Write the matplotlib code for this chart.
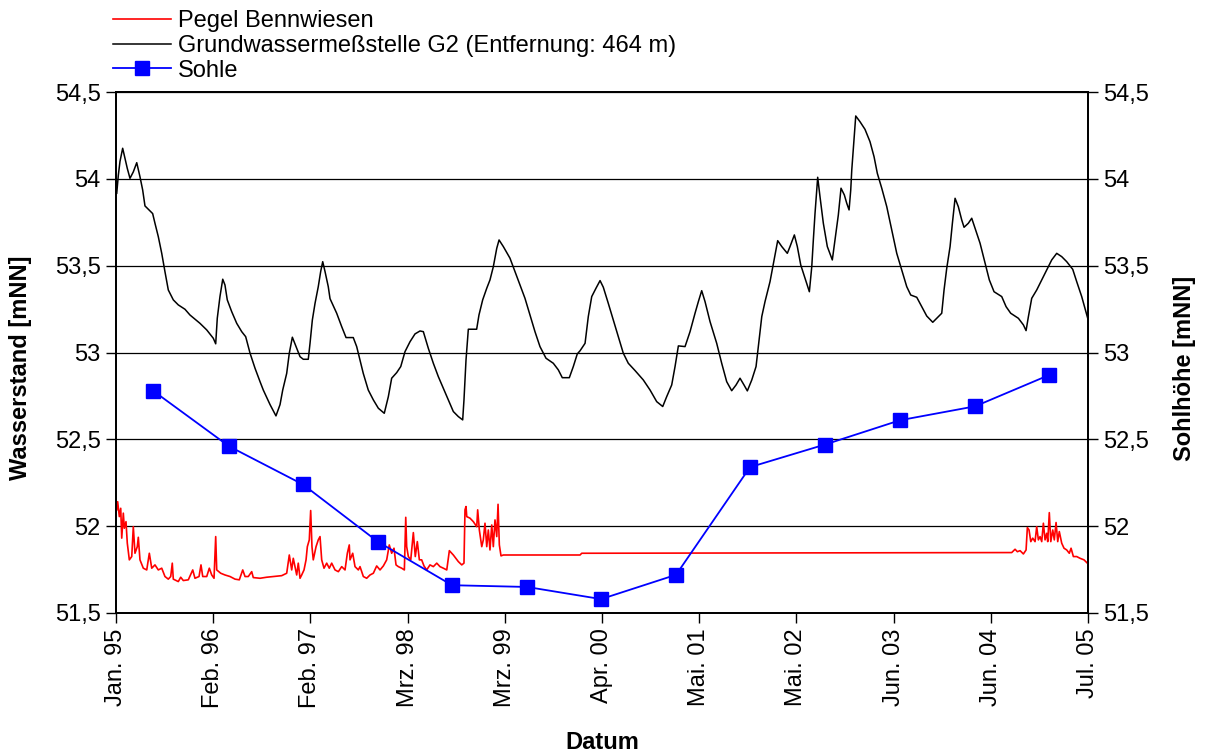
import matplotlib
matplotlib.use("Agg")
import matplotlib.pyplot as plt
from matplotlib.ticker import FuncFormatter

plt.rcParams['font.family'] = ['Liberation Sans', 'DejaVu Sans']

# ---------------- data (decimal years, m NN) ----------------
tick_labels = ["Jan. 95", "Feb. 96", "Feb. 97", "Mrz. 98", "Mrz. 99", "Apr. 00",
               "Mai. 01", "Mai. 02", "Jun. 03", "Jun. 04", "Jul. 05"]
x_start, x_end = 1995.0, 2005.5
y_ticks = [51.5, 52.0, 52.5, 53.0, 53.5, 54.0, 54.5]

sohle_year = [1995.400, 1996.221, 1997.020, 1997.830, 1998.630, 1999.440, 2000.240,
              2001.050, 2001.849, 2002.659, 2003.470, 2004.280, 2005.079]
sohle_level = [52.78, 52.46, 52.24, 51.91, 51.66, 51.65, 51.58,
               51.72, 52.34, 52.47, 52.61, 52.69, 52.87]

g2_year = [
    1995.008, 1995.025, 1995.043, 1995.072, 1995.097, 1995.122, 1995.151, 1995.187,
    1995.224, 1995.259, 1995.288, 1995.313, 1995.396, 1995.421, 1995.457, 1995.494,
    1995.529, 1995.565, 1995.619, 1995.673, 1995.745, 1995.799, 1995.907, 1995.980,
    1996.051, 1996.077, 1996.094, 1996.123, 1996.153, 1996.177, 1996.202, 1996.250,
    1996.304, 1996.358, 1996.401, 1996.448, 1996.502, 1996.556, 1996.591, 1996.664,
    1996.728, 1996.772, 1996.801, 1996.844, 1996.872, 1996.905, 1996.952, 1996.988,
    1997.023, 1997.077, 1997.096, 1997.121, 1997.150, 1997.185, 1997.211, 1997.233,
    1997.258, 1997.293, 1997.312, 1997.384, 1997.438, 1997.485, 1997.563, 1997.600,
    1997.636, 1997.671, 1997.725, 1997.780, 1997.834, 1997.898, 1997.942, 1997.978,
    1998.032, 1998.076, 1998.122, 1998.176, 1998.230, 1998.284, 1998.320, 1998.374,
    1998.428, 1998.482, 1998.536, 1998.590, 1998.644, 1998.698, 1998.745, 1998.759,
    1998.781, 1998.806, 1998.896, 1998.921, 1998.961, 1999.005, 1999.040, 1999.076,
    1999.113, 1999.138, 1999.184, 1999.256, 1999.310, 1999.364, 1999.418, 1999.472,
    1999.526, 1999.580, 1999.645, 1999.724, 1999.778, 1999.821, 1999.897, 1999.940,
    1999.983, 2000.013, 2000.067, 2000.102, 2000.139, 2000.185, 2000.229, 2000.264,
    2000.318, 2000.372, 2000.426, 2000.480, 2000.534, 2000.607, 2000.696, 2000.769,
    2000.841, 2000.906, 2000.949, 2001.003, 2001.039, 2001.075, 2001.147, 2001.201,
    2001.255, 2001.291, 2001.327, 2001.363, 2001.417, 2001.489, 2001.543, 2001.597,
    2001.651, 2001.698, 2001.741, 2001.784, 2001.820, 2001.868, 2001.914, 2001.939,
    2001.976, 2002.011, 2002.065, 2002.119, 2002.148, 2002.192, 2002.252, 2002.281,
    2002.328, 2002.360, 2002.397, 2002.443, 2002.490, 2002.516, 2002.533, 2002.551,
    2002.580, 2002.605, 2002.641, 2002.684, 2002.738, 2002.767, 2002.803, 2002.832,
    2002.868, 2002.894, 2002.919, 2002.937, 2002.948, 2002.965, 2002.991, 2003.037,
    2003.091, 2003.145, 2003.189, 2003.224, 2003.272, 2003.326, 2003.380, 2003.434,
    2003.488, 2003.542, 2003.585, 2003.650, 2003.704, 2003.758, 2003.823, 2003.883,
    2003.920, 2003.945, 2003.974, 2004.010, 2004.035, 2004.064, 2004.099, 2004.136,
    2004.161, 2004.207, 2004.244, 2004.280, 2004.334, 2004.388, 2004.434, 2004.485,
    2004.568, 2004.615, 2004.665, 2004.748, 2004.802, 2004.831, 2004.856, 2004.892,
    2004.946, 2005.000, 2005.054, 2005.108, 2005.162, 2005.216, 2005.270, 2005.335,
    2005.378, 2005.432, 2005.497]
g2_level = [
    53.917, 54.020, 54.100, 54.176, 54.118, 54.060, 54.003, 54.040,
    54.093, 54.012, 53.936, 53.844, 53.800, 53.744, 53.667, 53.571,
    53.465, 53.360, 53.303, 53.274, 53.249, 53.216, 53.168, 53.130,
    53.082, 53.050, 53.197, 53.322, 53.422, 53.389, 53.303, 53.235,
    53.168, 53.120, 53.091, 52.996, 52.909, 52.832, 52.784, 52.700,
    52.635, 52.700, 52.784, 52.880, 52.996, 53.088, 53.024, 52.976,
    52.961, 52.961, 53.053, 53.187, 53.283, 53.379, 53.466, 53.523,
    53.466, 53.379, 53.310, 53.226, 53.149, 53.086, 53.086, 53.034,
    52.957, 52.880, 52.784, 52.727, 52.679, 52.650, 52.746, 52.852,
    52.884, 52.919, 53.005, 53.062, 53.107, 53.124, 53.120, 53.024,
    52.938, 52.861, 52.794, 52.727, 52.660, 52.631, 52.612, 52.727,
    52.957, 53.134, 53.134, 53.216, 53.303, 53.370, 53.418, 53.494,
    53.600, 53.648, 53.610, 53.543, 53.466, 53.389, 53.312, 53.216,
    53.120, 53.034, 52.967, 52.938, 52.900, 52.855, 52.855, 52.919,
    52.992, 53.010, 53.053, 53.207, 53.322, 53.370, 53.414, 53.376,
    53.283, 53.187, 53.091, 52.996, 52.938, 52.896, 52.842, 52.784,
    52.717, 52.689, 52.746, 52.813, 52.919, 53.038, 53.034, 53.120,
    53.226, 53.293, 53.356, 53.293, 53.178, 53.053, 52.938, 52.832,
    52.780, 52.813, 52.852, 52.813, 52.779, 52.842, 52.919, 53.034,
    53.207, 53.293, 53.408, 53.562, 53.644, 53.610, 53.571, 53.610,
    53.677, 53.610, 53.504, 53.427, 53.350, 53.494, 53.648, 53.800,
    54.009, 53.897, 53.744, 53.610, 53.533, 53.648, 53.792, 53.946,
    53.907, 53.859, 53.821, 53.936, 54.050, 54.176, 54.362, 54.329,
    54.285, 54.214, 54.127, 54.032, 53.946, 53.840, 53.706, 53.571,
    53.475, 53.379, 53.331, 53.318, 53.264, 53.210, 53.174, 53.206,
    53.226, 53.360, 53.485, 53.610, 53.744, 53.888, 53.840, 53.763,
    53.721, 53.744, 53.773, 53.715, 53.629, 53.514, 53.418, 53.350,
    53.322, 53.264, 53.226, 53.197, 53.159, 53.126, 53.206, 53.312,
    53.360, 53.418, 53.475, 53.533, 53.571, 53.552, 53.523, 53.479,
    53.408, 53.322, 53.197]

pegel_year = [
    1995.008, 1995.018, 1995.036, 1995.051, 1995.062, 1995.079, 1995.090, 1995.108,
    1995.122, 1995.144, 1995.170, 1995.187, 1995.205, 1995.230, 1995.241, 1995.259,
    1995.295, 1995.332, 1995.360, 1995.386, 1995.421, 1995.457, 1995.494, 1995.529,
    1995.565, 1995.591, 1995.608, 1995.619, 1995.673, 1995.699, 1995.727, 1995.781,
    1995.829, 1995.853, 1995.897, 1995.918, 1995.937, 1995.980, 1996.008, 1996.034,
    1996.059, 1996.077, 1996.088, 1996.131, 1996.177, 1996.232, 1996.286, 1996.332,
    1996.369, 1996.394, 1996.429, 1996.466, 1996.483, 1996.556, 1996.628, 1996.699,
    1996.790, 1996.844, 1996.872, 1996.898, 1996.915, 1996.952, 1996.969, 1996.988,
    1997.006, 1997.031, 1997.053, 1997.067, 1997.088, 1997.103, 1997.117, 1997.131,
    1997.161, 1997.185, 1997.204, 1997.222, 1997.247, 1997.276, 1997.304, 1997.330,
    1997.366, 1997.402, 1997.438, 1997.474, 1997.499, 1997.520, 1997.528, 1997.557,
    1997.582, 1997.618, 1997.636, 1997.672, 1997.708, 1997.744, 1997.780, 1997.816,
    1997.852, 1997.888, 1997.924, 1997.952, 1997.978, 1998.003, 1998.025, 1998.050,
    1998.086, 1998.115, 1998.130, 1998.140, 1998.158, 1998.184, 1998.212, 1998.233,
    1998.255, 1998.277, 1998.302, 1998.327, 1998.356, 1998.392, 1998.428, 1998.465,
    1998.500, 1998.536, 1998.573, 1998.601, 1998.644, 1998.698, 1998.735, 1998.759,
    1998.770, 1998.781, 1998.789, 1998.824, 1998.860, 1998.897, 1998.907, 1998.925,
    1998.951, 1998.968, 1998.986, 1999.005, 1999.022, 1999.040, 1999.059, 1999.076,
    1999.094, 1999.113, 1999.127, 1999.141, 1999.159, 1999.184, 2000.013, 2000.031,
    2004.676, 2004.712, 2004.737, 2004.766, 2004.802, 2004.831, 2004.845, 2004.863,
    2004.882, 2004.903, 2004.928, 2004.946, 2004.964, 2004.982, 2005.000, 2005.018,
    2005.036, 2005.054, 2005.065, 2005.082, 2005.098, 2005.119, 2005.136, 2005.155,
    2005.173, 2005.190, 2005.216, 2005.241, 2005.270, 2005.298, 2005.317, 2005.342,
    2005.378, 2005.414, 2005.457, 2005.493]
pegel_level = [
    52.094, 52.141, 52.055, 52.103, 51.931, 52.075, 51.988, 52.026,
    51.902, 51.806, 51.825, 51.997, 51.844, 51.882, 51.936, 51.806,
    51.758, 51.748, 51.844, 51.758, 51.777, 51.748, 51.758, 51.710,
    51.695, 51.710, 51.787, 51.695, 51.681, 51.706, 51.687, 51.691,
    51.748, 51.700, 51.710, 51.777, 51.710, 51.710, 51.758, 51.719,
    51.700, 51.940, 51.748, 51.729, 51.719, 51.710, 51.695, 51.691,
    51.748, 51.710, 51.710, 51.738, 51.704, 51.700, 51.706, 51.710,
    51.715, 51.729, 51.834, 51.748, 51.815, 51.719, 51.787, 51.700,
    51.719, 51.748, 51.806, 51.882, 51.921, 52.090, 51.882, 51.806,
    51.882, 51.921, 51.940, 51.806, 51.758, 51.787, 51.758, 51.787,
    51.748, 51.738, 51.767, 51.748, 51.844, 51.892, 51.806, 51.844,
    51.767, 51.748, 51.767, 51.710, 51.700, 51.719, 51.729, 51.771,
    51.748, 51.771, 51.806, 51.892, 51.844, 51.873, 51.777, 51.767,
    51.758, 51.748, 52.051, 51.882, 51.825, 51.806, 51.963, 51.825,
    51.911, 51.806, 51.806, 51.771, 51.748, 51.777, 51.767, 51.787,
    51.767, 51.758, 51.748, 51.859, 51.834, 51.796, 51.777, 51.787,
    52.094, 52.113, 52.055, 52.046, 52.026, 51.997, 52.094, 51.978,
    51.882, 51.921, 52.017, 51.882, 51.978, 51.863, 52.007, 51.882,
    52.036, 51.940, 52.126, 51.892, 51.829, 51.834, 51.834, 51.844,
    51.848, 51.867, 51.853, 51.859, 51.840, 51.863, 51.992, 51.978,
    51.911, 51.931, 51.911, 51.997, 51.921, 51.940, 51.911, 52.017,
    51.921, 51.959, 51.911, 52.078, 51.911, 51.978, 51.921, 52.021,
    51.911, 51.969, 51.902, 51.873, 51.863, 51.844, 51.873, 51.825,
    51.825, 51.815, 51.806, 51.787]

# ---------------- figure ----------------
W, H = 1206, 756
fig = plt.figure(figsize=(W / 100, H / 100), dpi=100)
L, R, T, B = 116, 1088, 92, 613
ax = fig.add_axes([L / W, 1 - B / H, (R - L) / W, (B - T) / H])

FS = 17
line_pegel, = ax.plot(pegel_year, pegel_level, color='#FF0000', lw=1.2,
                      label='Pegel Bennwiesen', zorder=3)
line_g2, = ax.plot(g2_year, g2_level, color='black', lw=1.1,
                   label='Grundwassermeßstelle G2 (Entfernung: 464 m)', zorder=3)

ax.set_xlim(x_start, x_end)
ax.set_ylim(y_ticks[0], y_ticks[-1])
ax.set_yticks(y_ticks)
n = len(tick_labels)
ax.set_xticks([x_start + i * (x_end - x_start) / (n - 1) for i in range(n)])
ax.set_xticklabels(tick_labels, rotation=90, fontsize=FS)

fmt = FuncFormatter(lambda v, p: f"{v:g}".replace('.', ','))
ax.yaxis.set_major_formatter(fmt)
ax.yaxis.grid(True, color='black', lw=0.9)
ax.tick_params(axis='both', direction='out', length=7, width=1.0, labelsize=FS, pad=4)
for s in ax.spines.values():
    s.set_linewidth(1.3)

ax2 = ax.twinx()
ax2.set_ylim(y_ticks[0], y_ticks[-1])
ax2.set_yticks(y_ticks)
ax2.yaxis.set_major_formatter(fmt)
ax2.tick_params(axis='y', direction='out', length=7, width=1.0, labelsize=FS, pad=4)
line_sohle, = ax2.plot(sohle_year, sohle_level, color='#0000FF', lw=1.3,
                       marker='s', markersize=9.5, label='Sohle', zorder=5)
for s in ax2.spines.values():
    s.set_linewidth(1.3)

ax.set_ylabel('Wasserstand [mNN]', fontsize=FS, fontweight='bold')
ax.yaxis.set_label_coords((32 - L) / (R - L), 0.47)
ax2.set_ylabel('Sohlhöhe [mNN]', fontsize=FS, fontweight='bold', rotation=90)
ax2.yaxis.set_label_coords((1173 - L) / (R - L), 0.47)
ax.set_xlabel('Datum', fontsize=FS, fontweight='bold')
ax.xaxis.set_label_coords(0.5, (B - 731) / (B - T))

fig.legend(handles=[line_pegel, line_g2, line_sohle],
           labels=[h.get_label() for h in (line_pegel, line_g2, line_sohle)],
           loc='upper left', bbox_to_anchor=(113 / W, 1 - 10 / H),
           frameon=False, fontsize=FS, handlelength=2.45, handletextpad=0.3,
           labelspacing=0.12, borderpad=0, borderaxespad=0)

fig.savefig('out.png', dpi=100)
